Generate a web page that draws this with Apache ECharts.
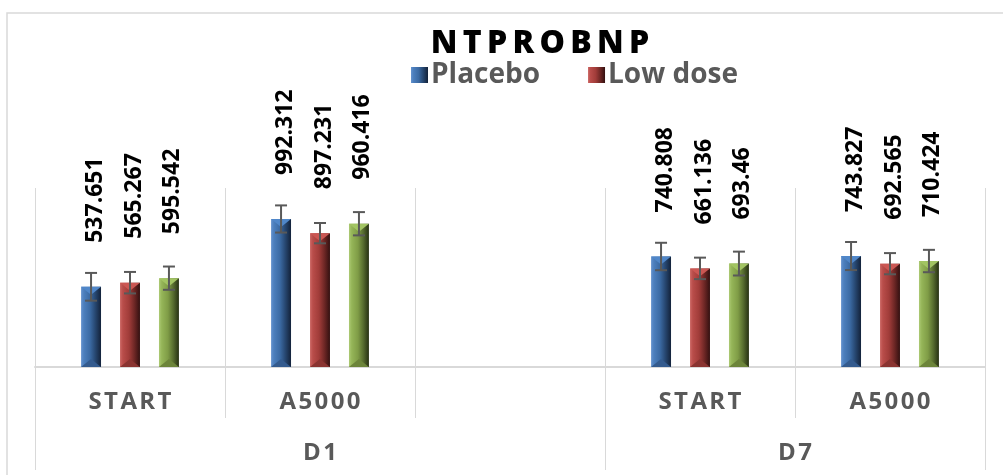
<!DOCTYPE html>
<html>
<head>
<meta charset="utf-8">
<title>NTPROBNP</title>
<script src="https://cdn.jsdelivr.net/npm/echarts@6/dist/echarts.min.js"></script>
<style>
  html, body { margin: 0; padding: 0; background: #ffffff; }
  #chart { width: 1003px; height: 475px; }
</style>
</head>
<body>
<div id="chart"></div>
<script>
// Inner category level (one slot per bar cluster) and the outer day groups
const categories = ['START', 'A5000', '', 'START', 'A5000'];
const groups = ['D1', 'D7'];
const groupSizes = [3, 2];

const seriesNames = ['Placebo', 'Low dose', 'High dose'];
const legendNames = ['Placebo', 'Low dose'];

// Mean values per slot (empty slot has no bars)
const placebo = [537.651, 992.312, null, 740.808, 743.827];
const lowDose = [565.267, 897.231, null, 661.136, 692.565];
const highDose = [595.542, 960.416, null, 693.46, 710.424];

// Error bar half-widths
const placeboErr = [93, 91, null, 92, 94];
const lowDoseErr = [72, 68, null, 72, 71];
const highDoseErr = [78, 78, null, 80, 75];

const yMin = 0;
const yMax = 1200;

// Bevelled bar shading per series
const palettes = [
  { stops: ['#6593cf', '#4c7fbd', '#3b6aa3', '#26466f', '#13223a'], top: '#5087c9', bottom: '#345b8e' },
  { stops: ['#cc6865', '#b94d4a', '#a13c39', '#6e2725', '#331010'], top: '#cb5753', bottom: '#8a3431' },
  { stops: ['#adca75', '#95b558', '#7f9c46', '#566b2e', '#263013'], top: '#a2c462', bottom: '#6c843a' }
];
const stopPos = [0, 0.14, 0.45, 0.72, 1];

function gradient(p) {
  return new echarts.graphic.LinearGradient(0, 0, 1, 0,
    p.stops.map((c, i) => ({ offset: stopPos[i], color: c })));
}

const FONT = '"Open Sans", "Noto Sans", sans-serif';
const spaced = (s, gap) => s.split('').join(gap);
const THIN = '\u2009';
const HAIR = '\u200A';

const valueSets = [placebo, lowDose, highDose];
const errSets = [placeboErr, lowDoseErr, highDoseErr];

function makeSeries(k) {
  const vals = valueSets[k];
  const errs = errSets[k];
  const data = categories
    .map((c, i) => (vals[i] == null ? null : [i, vals[i], errs[i]]))
    .filter(Boolean);
  const pal = palettes[k];
  return {
    name: seriesNames[k],
    type: 'custom',
    xAxisIndex: 0,
    yAxisIndex: 0,
    itemStyle: { color: gradient(pal) },
    encode: { x: 0, y: 1 },
    data: data,
    renderItem: function (params, api) {
      const ci = api.value(0);
      const v = api.value(1);
      const e = api.value(2);
      const band = api.size([1, 0])[0];
      const barW = band * 0.105;
      const step = band * 0.205;
      const base = api.coord([ci, 0]);
      const cx = base[0] + (k - 1) * step;
      const y0 = base[1];
      const y1 = api.coord([ci, v])[1];
      const eTop = api.coord([ci, v + e])[1];
      const eBot = api.coord([ci, v - e])[1];
      const x0 = cx - barW / 2;
      const x1 = cx + barW / 2;
      const bev = barW * 0.4;
      const cap = 6;
      return {
        type: 'group',
        children: [
          { type: 'rect', shape: { x: x0, y: y1, width: barW, height: y0 - y1 },
            style: { fill: gradient(pal) } },
          { type: 'polygon', shape: { points: [[x0, y1], [x1, y1], [cx, y1 + bev]] },
            style: { fill: pal.top } },
          { type: 'polygon', shape: { points: [[x0, y0], [x1, y0], [cx, y0 - bev]] },
            style: { fill: pal.bottom } },
          { type: 'line', shape: { x1: cx, y1: eTop, x2: cx, y2: eBot },
            style: { stroke: '#595959', lineWidth: 2 } },
          { type: 'line', shape: { x1: cx - cap, y1: eTop, x2: cx + cap, y2: eTop },
            style: { stroke: '#595959', lineWidth: 2 } },
          { type: 'line', shape: { x1: cx - cap, y1: eBot, x2: cx + cap, y2: eBot },
            style: { stroke: '#595959', lineWidth: 2 } },
          { type: 'text', x: cx + 4, y: y1 - 44, rotation: Math.PI / 2,
            style: { text: String(v), x: 0, y: 0, align: 'left', verticalAlign: 'middle',
              fill: '#000000', font: 'bold 23px ' + FONT } }
        ]
      };
    }
  };
}

// Outer-level boundaries and label centres, in slot units
const groupEdges = [0];
groupSizes.forEach(n => groupEdges.push(groupEdges[groupEdges.length - 1] + n));
const groupCentres = groups.map((g, i) => (groupEdges[i] + groupEdges[i + 1]) / 2);

const chart = echarts.init(document.getElementById('chart'), null, { renderer: 'canvas' });

chart.setOption({
  backgroundColor: '#ffffff',
  animation: false,
  graphic: [
    { type: 'rect', z: -10, silent: true,
      shape: { x: 7, y: 13, width: 1200, height: 700 },
      style: { fill: 'none', stroke: '#d9d9d9', lineWidth: 1.5 } }
  ],
  title: {
    text: spaced('NTPROBNP', THIN),
    left: 540,
    textAlign: 'center',
    top: 28,
    padding: 0,
    textStyle: { fontFamily: FONT, fontWeight: 800, fontSize: 32, color: '#000000' }
  },
  legend: {
    data: legendNames,
    left: 411,
    top: 61,
    padding: 0,
    icon: 'rect',
    itemWidth: 17,
    itemHeight: 16,
    itemGap: 48,
    textStyle: { fontFamily: FONT, fontWeight: 'bold', fontSize: 28, color: '#595959', padding: [0, 0, 0, -2] }
  },
  grid: { left: 35, right: 18, top: 188, bottom: 108, containLabel: false },
  xAxis: [
    {
      type: 'category',
      data: categories,
      position: 'bottom',
      boundaryGap: true,
      axisLine: { show: true, lineStyle: { color: '#d9d9d9', width: 2 } },
      axisTick: { show: true, interval: 0, length: 51, lineStyle: { color: '#d9d9d9', width: 1 } },
      splitLine: { show: true, interval: 0, lineStyle: { color: '#d9d9d9', width: 1 } },
      axisLabel: {
        interval: 0, margin: 23,
        fontFamily: FONT, fontWeight: 'bold', fontSize: 24, color: '#595959',
        formatter: v => spaced(v, HAIR)
      }
    },
    {
      type: 'value',
      position: 'bottom',
      min: 0,
      max: groupEdges[groupEdges.length - 1],
      axisLine: { show: false },
      splitLine: { show: false },
      axisTick: { show: true, customValues: groupEdges, length: 103,
        lineStyle: { color: '#d9d9d9', width: 1 } },
      axisLabel: {
        customValues: groupCentres, margin: 74,
        fontFamily: FONT, fontWeight: 'bold', fontSize: 24, color: '#595959',
        formatter: v => {
          const i = groupCentres.indexOf(v);
          return i < 0 ? '' : spaced(groups[i], HAIR);
        }
      }
    }
  ],
  yAxis: { type: 'value', min: yMin, max: yMax, show: false, splitLine: { show: false } },
  series: [makeSeries(0), makeSeries(1), makeSeries(2)]
});
</script>
</body>
</html>
